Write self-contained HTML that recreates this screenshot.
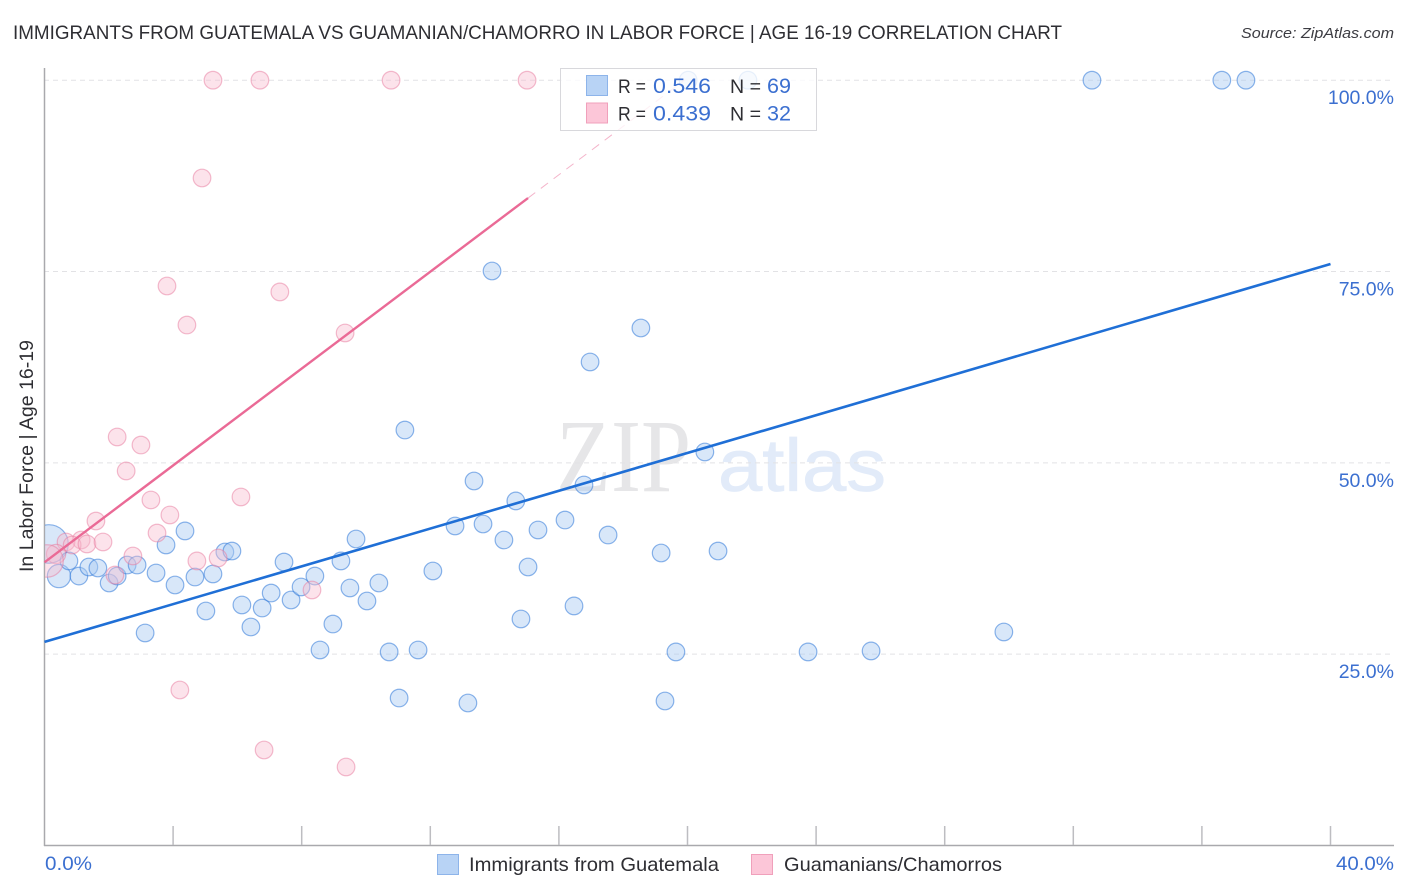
<!DOCTYPE html>
<html>
<head>
<meta charset="utf-8">
<title>Correlation chart</title>
<style>
html,body{margin:0;padding:0;background:#fff;width:1406px;height:892px;overflow:hidden}
svg{display:block}
text{font-family:"Liberation Sans",sans-serif}
</style>
</head>
<body>
<svg id="chart" width="1406" height="892" viewBox="0 0 1406 892" xmlns="http://www.w3.org/2000/svg">
  <defs>
    <clipPath id="plot-clip"><rect x="45" y="60" width="1349" height="786"></rect></clipPath>
  </defs>
  <text x="13" y="39" font-size="19.5" fill="#2e2e33" textLength="1049" lengthAdjust="spacingAndGlyphs">IMMIGRANTS FROM GUATEMALA VS GUAMANIAN/CHAMORRO IN LABOR FORCE | AGE 16-19 CORRELATION CHART</text>
  <text x="1241" y="38" font-size="15" font-style="italic" fill="#3c3c42" textLength="153" lengthAdjust="spacingAndGlyphs">Source: ZipAtlas.com</text>
  <g>
    <text x="556" y="491" font-size="104" fill="#e6e6e8" style="font-family:'Liberation Serif',serif" textLength="135" lengthAdjust="spacingAndGlyphs">ZIP</text>
    <text x="718" y="491" font-size="74" fill="#e2ebf9" stroke="#e2ebf9" stroke-width="0.8" textLength="168" lengthAdjust="spacingAndGlyphs">atlas</text>
  </g>
  <g id="grid"></g>
  <g id="axes"></g>
  <text transform="translate(33,456) rotate(-90)" text-anchor="middle" font-size="19" fill="#2e2e33" textLength="232" lengthAdjust="spacingAndGlyphs">In Labor Force | Age 16-19</text>
  <g id="series-blue" clip-path="url(#plot-clip)"></g>
  <g id="series-pink" clip-path="url(#plot-clip)"></g>
  <g id="trends"></g>
  <g>
    <rect x="560.5" y="68.5" width="256" height="62" fill="#fff" fill-opacity="0.8" stroke="#d8d8dc" stroke-width="1"></rect>
    <rect x="586.5" y="75.5" width="21" height="20" fill="#b8d3f5" stroke="#8db4ea"></rect>
    <rect x="586.5" y="103" width="21" height="20" fill="#fcc6d8" stroke="#f0a0bb"></rect>
    <text x="618" y="93" font-size="19.5" fill="#2e2e33" textLength="28" lengthAdjust="spacingAndGlyphs">R =</text>
    <text x="653" y="93" font-size="21" fill="#3b6fd0" textLength="58" lengthAdjust="spacingAndGlyphs">0.546</text>
    <text x="730" y="93" font-size="19.5" fill="#2e2e33" textLength="31" lengthAdjust="spacingAndGlyphs">N =</text>
    <text x="767" y="93" font-size="21" fill="#3b6fd0" textLength="24" lengthAdjust="spacingAndGlyphs">69</text>
    <text x="618" y="120.5" font-size="19.5" fill="#2e2e33" textLength="28" lengthAdjust="spacingAndGlyphs">R =</text>
    <text x="653" y="120.5" font-size="21" fill="#3b6fd0" textLength="58" lengthAdjust="spacingAndGlyphs">0.439</text>
    <text x="730" y="120.5" font-size="19.5" fill="#2e2e33" textLength="31" lengthAdjust="spacingAndGlyphs">N =</text>
    <text x="767" y="120.5" font-size="21" fill="#3b6fd0" textLength="24" lengthAdjust="spacingAndGlyphs">32</text>
  </g>
  <g>
    <rect x="437.5" y="854.5" width="21" height="20" fill="#b8d3f5" stroke="#8db4ea"></rect>
    <text x="469" y="871" font-size="19.5" fill="#2e2e33" textLength="250" lengthAdjust="spacingAndGlyphs">Immigrants from Guatemala</text>
    <rect x="751.5" y="854.5" width="21" height="20" fill="#fcc6d8" stroke="#f0a0bb"></rect>
    <text x="784" y="871" font-size="19.5" fill="#2e2e33" textLength="218" lengthAdjust="spacingAndGlyphs">Guamanians/Chamorros</text>
  </g>
</svg>
<script>
const xTickValues = [0,4,8,12,16,20,24,28,32,36,40];
const xEndLabels = ["0.0%","40.0%"];
const yTickValues = [25,50,75,100];
const yTickLabels = ["25.0%","50.0%","75.0%","100.0%"];

const blueX = [0.14,0.45,0.76,1.07,1.38,1.66,2.01,2.26,2.57,2.88,3.13,3.47,3.78,4.06,4.37,4.68,5.02,5.24,5.61,5.83,6.14,6.42,6.77,7.05,7.45,7.67,7.98,8.41,8.57,8.97,9.22,9.50,9.69,10.03,10.40,10.72,11.03,11.21,11.62,12.08,12.77,13.17,13.36,13.64,13.92,14.29,14.66,14.82,15.04,15.35,16.19,16.47,16.78,16.97,17.53,18.55,19.18,19.30,19.64,20.02,20.54,20.95,21.88,23.75,25.71,29.84,32.58,36.62,37.37];
const blueY = [39.4,35.21,37.18,35.21,36.39,36.26,34.30,35.21,36.65,36.65,27.77,35.61,39.27,34.04,41.10,35.08,30.64,35.48,38.35,38.48,31.43,28.55,31.03,32.99,37.04,32.08,33.78,35.21,25.55,28.94,37.18,33.65,40.05,31.95,34.30,25.29,19.27,54.29,25.55,35.87,41.75,18.62,47.63,42.01,75.07,39.92,45.02,29.60,36.39,41.23,42.53,31.30,47.11,63.18,40.57,67.62,38.22,18.88,25.29,100,51.42,38.48,100,25.29,25.42,27.90,100,100,100];
const blueWeight = [4.8,1.75,1,1,1,1,1,1,1,1,1,1,1,1,1,1,1,1,1,1,1,1,1,1,1,1,1,1,1,1,1,1,1,1,1,1,1,1,1,1,1,1,1,1,1,1,1,1,1,1,1,1,1,1,1,1,1,1,1,1,1,1,1,1,1,1,1,1,1];

const pinkX = [5.24,6.70,10.78,15.01,4.90,3.81,7.32,4.43,9.35,2.26,3.00,2.54,3.31,6.11,3.90,1.60,3.50,1.14,0.67,0.86,1.32,1.82,0.36,2.75,4.74,5.40,2.19,8.32,4.21,6.83,9.38,0.08];
const pinkY = [100,100,100,100,87.22,73.11,72.33,68.01,66.97,53.38,52.33,48.94,45.15,45.54,43.19,42.40,40.83,39.92,39.66,39.27,39.40,39.66,38.09,37.83,37.18,37.57,35.34,33.39,20.32,12.48,10.26,37.18];
const pinkWeight = [1,1,1,1,1,1,1,1,1,1,1,1,1,1,1,1,1,1,1,1,1,1,1.2,1,1,1,1,1,1,1,1,3.4];

const blueTrendX = [0,40];
const blueTrendY = [26.6,75.98];
const pinkTrendX = [0,15.04];
const pinkTrendY = [37.0,84.6];
const pinkDashX = [15.04,19.9];
const pinkDashY = [84.6,100];

const SVGNS = 'http://www.w3.org/2000/svg';
function xScale(v){ return 44.5 + v * 32.15; }
function yScale(v){ return 845.5 - v * 7.653; }
function rScale(w){ return 8.8 * Math.sqrt(w); }
function make(tag, attrs, parent){
  const el = document.createElementNS(SVGNS, tag);
  for (const k in attrs) el.setAttribute(k, attrs[k]);
  parent.appendChild(el);
  return el;
}

const grid = document.getElementById('grid');
const axes = document.getElementById('axes');
const trends = document.getElementById('trends');

yTickValues.forEach(function(v, i){
  const line = make('line', {x1:44, x2:1393, y1:yScale(v), y2:yScale(v), stroke:'#e2e2e5', 'stroke-width':1, 'stroke-dasharray':'5 4'}, grid);
  
  
  const label = make('text', {x:1394, y:yScale(v) + 24, 'text-anchor':'end', 'font-size':19.5, fill:'#3b6fd0'}, axes);
  label.textContent = yTickLabels[i];
  
  
});

const yAxis = make('line', {x1:44.5, x2:44.5, y1:68, y2:846, stroke:'#a9a9ad', 'stroke-width':1.5}, axes);


const xAxis = make('line', {x1:44, x2:1394, y1:845.5, y2:845.5, stroke:'#a9a9ad', 'stroke-width':1.5}, axes);



xTickValues.forEach(function(v){
  if (v === 0) return;
  const tick = make('line', {x1:xScale(v), x2:xScale(v), y1:826, y2:845, stroke:'#bdbdc1', 'stroke-width':1.5}, axes);
  
  
});

const xLabelLeft = make('text', {x:45, y:870, 'font-size':19.5, fill:'#3b6fd0', textLength:47, lengthAdjust:'spacingAndGlyphs'}, axes);
xLabelLeft.textContent = xEndLabels[0];


const xLabelRight = make('text', {x:1336, y:870, 'font-size':19.5, fill:'#3b6fd0', textLength:58, lengthAdjust:'spacingAndGlyphs'}, axes);
xLabelRight.textContent = xEndLabels[1];



const blueGroup = document.getElementById('series-blue');
blueX.forEach(function(v, i){
  const c = make('circle', {cx:xScale(v), cy:yScale(blueY[i]), r:rScale(blueWeight[i]), fill:'#a9caf3', 'fill-opacity':0.46, stroke:'#2f78d8', 'stroke-opacity':0.55, 'stroke-width':1.2}, blueGroup);
  
  
});

const pinkGroup = document.getElementById('series-pink');
pinkX.forEach(function(v, i){
  const c = make('circle', {cx:xScale(v), cy:yScale(pinkY[i]), r:rScale(pinkWeight[i]), fill:'#f9bcd0', 'fill-opacity':0.42, stroke:'#e8799e', 'stroke-opacity':0.5, 'stroke-width':1.2}, pinkGroup);
  
  
});

const blueLine = make('line', {x1:xScale(blueTrendX[0]), y1:yScale(blueTrendY[0]), x2:xScale(blueTrendX[1]), y2:yScale(blueTrendY[1]), stroke:'#1f6fd6', 'stroke-width':2.6}, trends);


const pinkLine = make('line', {x1:xScale(pinkTrendX[0]), y1:yScale(pinkTrendY[0]), x2:xScale(pinkTrendX[1]), y2:yScale(pinkTrendY[1]), stroke:'#ea6a96', 'stroke-width':2.4}, trends);


const pinkDash = make('line', {x1:xScale(pinkDashX[0]), y1:yScale(pinkDashY[0]), x2:xScale(pinkDashX[1]), y2:yScale(pinkDashY[1]), stroke:'#ea6a96', 'stroke-width':1, 'stroke-opacity':0.5, 'stroke-dasharray':'9 7'}, trends);


</script>
</body>
</html>
